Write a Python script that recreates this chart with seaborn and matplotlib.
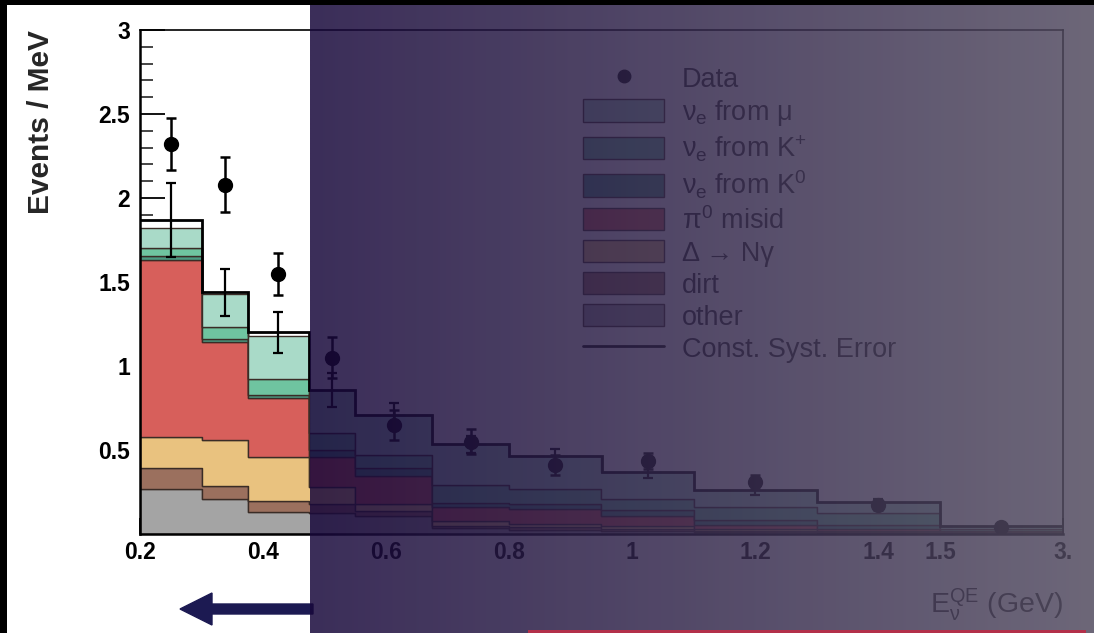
import numpy as np
import pandas as pd
import matplotlib
matplotlib.use("Agg")
import matplotlib.pyplot as plt
import seaborn as sns
from matplotlib.patches import Rectangle, Patch, FancyArrow
from matplotlib.lines import Line2D
from matplotlib.transforms import IdentityTransform

# ---------------- data ----------------
edges = [0.2, 0.3, 0.375, 0.475, 0.55, 0.675, 0.8, 0.95, 1.1, 1.3, 1.5, 3.0]
centers = [0.25, 0.3375, 0.425, 0.5125, 0.6125, 0.7375, 0.875, 1.025, 1.2, 1.4, 2.25]

comp_names = ["nue_mu", "nue_Kp", "nue_K0", "pi0", "delta", "dirt", "other"]
nue_mu = [0.12, 0.20, 0.26, 0.257, 0.24, 0.245, 0.195, 0.16, 0.10, 0.065, 0.015]
nue_Kp = [0.045, 0.07, 0.09, 0.10, 0.08, 0.105, 0.09, 0.07, 0.075, 0.07, 0.01]
nue_K0 = [0.025, 0.02, 0.02, 0.04, 0.045, 0.025, 0.03, 0.03, 0.03, 0.025, 0.008]
pi0 = [1.05, 0.58, 0.35, 0.18, 0.165, 0.085, 0.09, 0.06, 0.025, 0.012, 0.004]
delta = [0.19, 0.275, 0.265, 0.10, 0.045, 0.025, 0.02, 0.02, 0.01, 0.006, 0.003]
dirt = [0.12, 0.075, 0.065, 0.055, 0.025, 0.015, 0.015, 0.01, 0.008, 0.004, 0.002]
other = [0.27, 0.21, 0.13, 0.125, 0.11, 0.035, 0.025, 0.02, 0.012, 0.008, 0.003]

syst_line = [1.87, 1.44, 1.20, 0.857, 0.71, 0.535, 0.465, 0.37, 0.26, 0.19, 0.045]
syst_err = [0.22, 0.14, 0.12, 0.10, 0.07, 0.05, 0.04, 0.035, 0.03, 0.02, 0.01]

data_y = [2.32, 2.08, 1.55, 1.05, 0.65, 0.55, 0.41, 0.435, 0.31, 0.17, 0.04]
data_err = [0.155, 0.165, 0.125, 0.12, 0.09, 0.075, 0.06, 0.05, 0.04, 0.03, 0.01]

xtick_pos = [0.2, 0.4, 0.6, 0.8, 1.0, 1.2, 1.4, 1.5, 3.0]
xtick_lab = ["0.2", "0.4", "0.6", "0.8", "1", "1.2", "1.4", "1.5", "3."]
ytick_pos = [0.5, 1.0, 1.5, 2.0, 2.5, 3.0]
ytick_lab = ["0.5", "1", "1.5", "2", "2.5", "3"]

labels = {
    "nue_mu": r"$\nu_e$ from $\mu$",
    "nue_Kp": r"$\nu_e$ from K$^{+}$",
    "nue_K0": r"$\nu_e$ from K$^{0}$",
    "pi0": r"$\pi^0$ misid",
    "delta": "\u0394 \u2192 N\u03b3",
    "dirt": "dirt",
    "other": "other",
}
colors = {
    "nue_mu": "#a9dac8",
    "nue_Kp": "#6fc4a0",
    "nue_K0": "#4b9a82",
    "pi0": "#d75f5b",
    "delta": "#e9c27f",
    "dirt": "#9b705e",
    "other": "#a4a4a4",
}

# ---------------- style ----------------
sns.set_theme(style="white")
plt.rcParams["font.family"] = ["Liberation Sans", "DejaVu Sans"]
plt.rcParams["mathtext.fontset"] = "custom"
plt.rcParams["mathtext.rm"] = "Liberation Sans"
plt.rcParams["mathtext.it"] = "Liberation Sans"
plt.rcParams["mathtext.bf"] = "Liberation Sans:bold"

W, H = 1094, 633
fig = plt.figure(figsize=(W / 100, H / 100), dpi=100)
fig.patch.set_facecolor("white")
ax = fig.add_axes([140 / W, (H - 534) / H, (1063 - 140) / W, (534 - 30) / H])

# ---------------- stacked histogram ----------------
comp_vals = {"nue_mu": nue_mu, "nue_Kp": nue_Kp, "nue_K0": nue_K0, "pi0": pi0,
             "delta": delta, "dirt": dirt, "other": other}
rows = []
for name in comp_names:
    for c, v in zip(centers, comp_vals[name]):
        rows.append({"E": c, "w": v, "comp": name})
df = pd.DataFrame(rows)

sns.histplot(data=df, x="E", weights="w", hue="comp", hue_order=comp_names,
             bins=edges, multiple="stack", element="step", fill=True,
             palette=colors, alpha=1.0, edgecolor="#3a2c26", linewidth=1.0,
             legend=False, ax=ax)

ax.stairs(syst_line, edges, baseline=None, color="black", linewidth=2.0, zorder=4)
ax.errorbar(centers, syst_line, yerr=syst_err, fmt="none", ecolor="black",
            elinewidth=1.6, capsize=3.5, capthick=1.6, zorder=5)
ax.errorbar(centers, data_y, yerr=data_err, fmt="o", color="black", ms=10,
            elinewidth=1.8, capsize=3.5, capthick=1.8, zorder=6)

# ---------------- scale / axes ----------------
def fwd(x):
    x = np.asarray(x, dtype=float)
    return np.where(x <= 1.5, x, 1.5 + (x - 1.5) / 7.5)

def inv(y):
    y = np.asarray(y, dtype=float)
    return np.where(y <= 1.5, y, 1.5 + (y - 1.5) * 7.5)

ax.set_xscale("function", functions=(fwd, inv))
ax.set_xlim(0.2, 3.0)
ax.set_ylim(0, 3.0)
ax.set_xticks(xtick_pos)
ax.set_xticklabels(xtick_lab)
ax.set_xticks([v for v in np.arange(0.25, 1.5, 0.05) if min(abs(v - t) for t in xtick_pos) > 1e-6], minor=True)
ax.set_yticks(ytick_pos)
ax.set_yticklabels(ytick_lab)
ax.set_yticks([v for v in np.arange(0.1, 3.0, 0.1) if min(abs(v - t) for t in ytick_pos) > 1e-6], minor=True)

ax.tick_params(axis="y", which="major", direction="in", length=18, width=1.3,
               labelsize=16.5, pad=7, left=True, right=False, colors="black")
ax.tick_params(axis="y", which="minor", direction="in", length=9, width=1.2,
               left=True, right=False)
ax.tick_params(axis="x", which="major", direction="in", length=11.5, width=1.3,
               labelsize=16.5, pad=5, bottom=True, top=False, colors="black")
ax.tick_params(axis="x", which="minor", direction="in", length=5, width=1.2,
               bottom=True, top=False)
for lab in ax.get_xticklabels() + ax.get_yticklabels():
    lab.set_fontweight("bold")

for side in ["left", "bottom"]:
    ax.spines[side].set_linewidth(1.8)
    ax.spines[side].set_color("black")
for side in ["top", "right"]:
    ax.spines[side].set_linewidth(1.2)
    ax.spines[side].set_color("black")
    ax.spines[side].set_visible(True)
ax.set_facecolor("white")
ax.grid(False)

ax.set_ylabel("Events / MeV", fontsize=21.5, fontweight="bold", loc="top")
ax.yaxis.set_label_coords(-0.092, 1.0)
ax.set_xlabel(r"$\mathrm{E}_{\nu}^{\mathrm{QE}}$ (GeV)", fontsize=20.5, loc="right")
ax.xaxis.set_label_coords(1.0, -0.103)

# ---------------- legend ----------------
handles = [Line2D([], [], marker="o", color="black", linestyle="none", markersize=9)]
leg_labels = ["Data"]
for name in comp_names:
    handles.append(Patch(facecolor=colors[name], edgecolor="#3a2c26", linewidth=1.0))
    leg_labels.append(labels[name])
handles.append(Line2D([], [], color="black", linewidth=2.0))
leg_labels.append("Const. Syst. Error")
ax.legend(handles, leg_labels, loc="upper left",
          bbox_to_anchor=(583 / W, 1 - 66 / H), bbox_transform=fig.transFigure,
          frameon=False, fontsize=19.5, borderpad=0, borderaxespad=0,
          handlelength=3.0, handleheight=0.9, handletextpad=0.65, labelspacing=0.2)

# ---------------- decorations ----------------
arrow = FancyArrow(313, H - 609, -133, 0, width=10, head_width=32, head_length=32,
                   length_includes_head=True, color="#1c1a52",
                   transform=IdentityTransform(), zorder=5)
fig.add_artist(arrow)

ov_left, ov_top = 310, 5
ax_ov = fig.add_axes([ov_left / W, 0, 1 - ov_left / W, 1 - ov_top / H])
n = 256
t = np.linspace(0, 1, n)
cl = np.array([24, 8, 59]) / 255.0
cr = np.array([82, 75, 96]) / 255.0
rgb = cl[None, :] * (1 - t[:, None]) + cr[None, :] * t[:, None]
img = np.zeros((2, n, 4))
img[..., :3] = rgb[None, :, :]
img[..., 3] = 0.85
ax_ov.imshow(img, aspect="auto", extent=(0, 1, 0, 1), interpolation="bilinear")
ax_ov.axis("off")
ax_ov.set_zorder(10)

fig.add_artist(Rectangle((528, 0), 1086 - 528, 3, facecolor="#b3304a", edgecolor="none",
                         transform=IdentityTransform(), zorder=20))
fig.add_artist(Rectangle((0, H - 5), W, 5, facecolor="black", edgecolor="none",
                         transform=IdentityTransform(), zorder=30))
fig.add_artist(Rectangle((0, 0), 7, H, facecolor="black", edgecolor="none",
                         transform=IdentityTransform(), zorder=30))

fig.savefig("out.png", dpi=100)
